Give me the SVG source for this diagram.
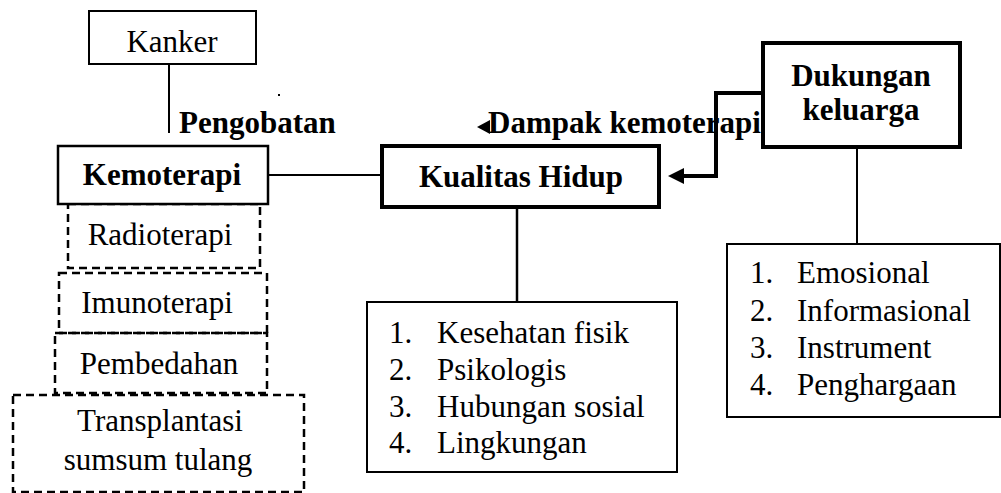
<svg xmlns="http://www.w3.org/2000/svg" width="1001" height="493" viewBox="0 0 1001 493">
<style>
text{font-family:"Liberation Serif","Times New Roman",serif;font-size:31px;fill:#000}
.b{font-weight:bold}
.c{text-anchor:middle}
.box{fill:#fff;stroke:#000;stroke-width:2}
.thick{fill:#fff;stroke:#000;stroke-width:4}
.mid{fill:#fff;stroke:#000;stroke-width:2.5}
.dash{fill:none;stroke:#000;stroke-width:2.5;stroke-dasharray:8 5}
.ln{fill:none;stroke:#000;stroke-width:2}
.tk{fill:none;stroke:#000;stroke-width:4}
</style>
<defs>
<marker id="ah" markerUnits="userSpaceOnUse" markerWidth="16" markerHeight="16" refX="15" refY="8" orient="auto">
<path d="M0,0 L16,8 L0,16 Z" fill="#000"/>
</marker>
</defs>
<rect width="1001" height="493" fill="#fff"/>
<g id="connectors">
<text x="488" y="133" class="b">Dampak kemoterapi</text>
<text x="179" y="133" class="b">Pengobatan</text>
<polygon points="477,127 490,120 490,134" fill="#000"/>
<rect x="278" y="94" width="2" height="2" fill="#000"/>
<line class="ln" x1="169" y1="64" x2="169" y2="133"/>
<line class="ln" x1="268" y1="175" x2="382" y2="175"/>
<line class="mid" x1="517" y1="207" x2="517" y2="302"/>
<line class="ln" x1="857" y1="147" x2="857" y2="244"/>
<path class="tk" d="M763,93 H716 V176 H684"/>
<polygon points="668,176 684,168 684,184" fill="#000"/>
</g>
<g id="kanker">
<rect class="box" x="89" y="11" width="167" height="53"/>
<text x="172" y="52" class="c">Kanker</text>
</g>
<g id="radioterapi">
<rect class="dash" x="68" y="204" width="192" height="64"/>
<text x="160" y="245" class="c">Radioterapi</text>
</g>
<g id="imunoterapi">
<rect class="dash" x="59" y="273" width="208" height="60"/>
<text x="157" y="313" class="c">Imunoterapi</text>
</g>
<g id="pembedahan">
<rect class="dash" x="55" y="333" width="212" height="60"/>
<text x="159" y="374" class="c">Pembedahan</text>
</g>
<g id="transplantasi">
<rect class="dash" x="13" y="395" width="291" height="97"/>
<text x="160" y="431" class="c">Transplantasi</text>
<text x="158" y="470" class="c">sumsum tulang</text>
</g>
<g id="kemoterapi">
<rect class="mid" x="58" y="146" width="210" height="58"/>
<text x="162" y="185" class="c b">Kemoterapi</text>
</g>
<g id="kualitas-hidup">
<rect class="thick" x="382" y="146" width="277" height="61"/>
<text x="521" y="187" class="c b">Kualitas Hidup</text>
</g>
<g id="dukungan-keluarga">
<rect class="thick" x="763" y="43" width="197" height="104"/>
<text x="861" y="86" class="c b">Dukungan</text>
<text x="861" y="120" class="c b">keluarga</text>
</g>
<g id="kualitas-list">
<rect class="box" x="367" y="302" width="310" height="170"/>
<text x="389" y="343">1.</text><text x="437" y="343">Kesehatan fisik</text>
<text x="389" y="380">2.</text><text x="437" y="380">Psikologis</text>
<text x="389" y="417">3.</text><text x="437" y="417">Hubungan sosial</text>
<text x="389" y="453">4.</text><text x="437" y="453">Lingkungan</text>
</g>
<g id="dukungan-list">
<rect class="box" x="727" y="244" width="273" height="173"/>
<text x="750" y="283">1.</text><text x="797" y="283">Emosional</text>
<text x="750" y="321">2.</text><text x="797" y="321">Informasional</text>
<text x="750" y="358">3.</text><text x="797" y="358">Instrument</text>
<text x="750" y="395">4.</text><text x="797" y="395">Penghargaan</text>
</g>
</svg>
